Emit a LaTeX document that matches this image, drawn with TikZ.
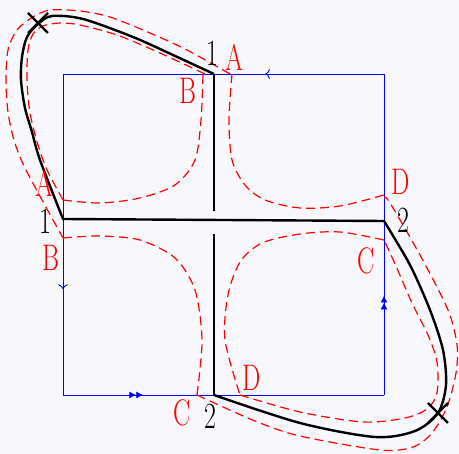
\documentclass[tikz,border=0pt]{standalone}
\usepackage{graphicx}
\usetikzlibrary{arrows.meta,decorations.markings}
\definecolor{paper}{RGB}{248,248,252}
\newcommand{\lbl}[1]{\scalebox{0.7}[1]{#1}}

\begin{document}
\begin{tikzpicture}[x=1pt,y=-1pt,
    cutline/.style={line width=2.4pt, line join=round},
    edgeline/.style={blue, line width=0.9pt},
    loopline/.style={red, line width=1.2pt, dash pattern=on 9pt off 5pt},
    lab/.style={inner sep=0pt, font=\fontsize{37}{37}\selectfont},
    onearrow/.style={postaction={decorate}, decoration={markings,
        mark=at position #1 with {\arrow{To[scale=1.3]}}}},
    twoarrow/.style={postaction={decorate}, decoration={markings,
        mark=at position #1 with {\arrow{Latex[length=7pt,width=7pt] Latex[length=7pt,width=7pt]}}}}]
  \fill[paper] (0,0) rectangle (459,454);
  \useasboundingbox (0,0) rectangle (459,454);

  % square and its corners
  \coordinate (tl) at (63,74);
  \coordinate (tr) at (384,74);
  \coordinate (br) at (384,395);
  \coordinate (bl) at (63,395);
  \draw[edgeline, onearrow=0.37] (tr) -- (tl);
  \draw[edgeline, onearrow=0.67] (tl) -- (bl);
  \draw[edgeline, twoarrow=0.25] (bl) -- (br);
  \draw[edgeline, twoarrow=0.31] (br) -- (tr);

  % dashed loops
  \draw[loopline] plot[smooth] coordinates {(230,74) (187,50) (150,33) (110,17)
    (80,11) (50,10) (33,17) (17,30) (8,50) (6,80) (8,112) (14,140) (26,170) (63,238)};
  \draw[loopline] plot[smooth] coordinates {(205,74) (160,53) (117,35) (80,25)
    (60,23) (43,26) (33,34) (28,50) (27,80) (30,113) (38,145) (47,170) (63,200)};
  \draw[loopline] plot[smooth] coordinates {(63,200) (100,203) (140,198) (175,185)
    (195,160) (201,120) (203,74)};
  \draw[loopline] plot[smooth] coordinates {(63,238) (100,236) (140,240) (175,258)
    (195,290) (202,340) (197,395)};
  \draw[loopline] plot[smooth] coordinates {(232,74) (229,120) (232,160) (245,185)
    (265,200) (300,208) (340,206) (384,195)};
  \draw[loopline] plot[smooth] coordinates {(384,240) (340,232) (300,234) (262,243)
    (240,262) (228,295) (225,340) (240,395)};
  \draw[loopline] plot[smooth] coordinates {(197,395) (255,421) (300,436)
    (380,450) (413,447) (432,433) (447,407) (456,373) (457,345)
    (448,310) (420,255) (390,203) (384,197)};
  \draw[loopline] plot[smooth] coordinates {(240,395) (300,412)
    (363,422) (405,418) (427,409) (437,393) (437,362) (428,335) (412,303)
    (396,266) (384,240)};

  % cuts
  \draw[cutline] plot[smooth] coordinates {(214,74) (173,55) (133,37) (83,19)
    (52,16) (38,24) (27,37) (22,57) (21,80) (25,108) (32,132) (40,160) (63,219)}
    -- (384,221) -- plot[smooth] coordinates {(384,221) (410,265) (430,310)
    (443,350) (446,385) (438,413) (415,431) (375,437) (300,423) (214,395)};
  \draw[cutline] (214,74) -- (214,211);
  \draw[cutline] (214,234) -- (214,395);
  \coordinate (xa) at (38,23);
  \coordinate (xb) at (438,413);
  \draw[cutline] (xa) ++(-10,-10) -- ++(20,20) (xa) ++(-10,10) -- ++(20,-20);
  \draw[cutline] (xb) ++(-10,-10) -- ++(20,20) (xb) ++(-10,10) -- ++(20,-20);

  % labels
  \node[lab] (ntop) at (212,53) {\lbl{1}};
  \node[lab] (nleft) at (45,221) {\lbl{1}};
  \node[lab] (nright) at (403,220) {\lbl{2}};
  \node[lab] (nbot) at (210,416) {\lbl{2}};
  \node[lab, red] (atop) at (234,57) {\lbl{A}};
  \node[lab, red] (btop) at (188,91) {\lbl{B}};
  \node[lab, red] (aleft) at (44,183) {\lbl{A}};
  \node[lab, red] (bleft) at (51,258) {\lbl{B}};
  \node[lab, red] (dright) at (401,182) {\lbl{D}};
  \node[lab, red] (cright) at (366,261) {\lbl{C}};
  \node[lab, red] (dbot) at (252,378) {\lbl{D}};
  \node[lab, red] (cbot) at (182,413) {\lbl{C}};
\end{tikzpicture}
\end{document}
